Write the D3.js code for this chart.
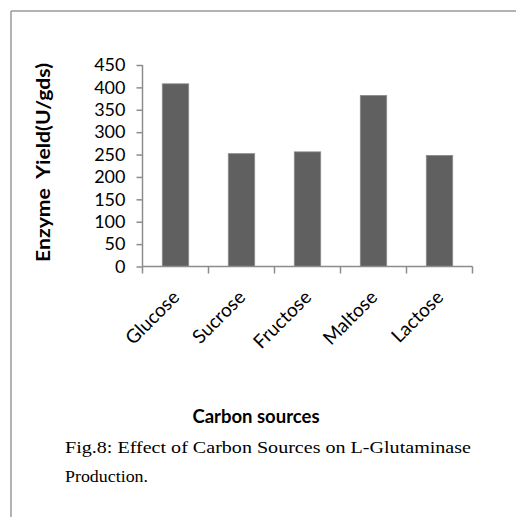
<!DOCTYPE html>
<html><head><meta charset="utf-8">
<script src="https://cdn.jsdelivr.net/npm/d3@7"></script>
<style>body{margin:0;background:#fff}svg{display:block}</style>
</head><body>
<script>
const categories = ["Glucose","Sucrose","Fructose","Maltose","Lactose"];
const values = [408, 252, 256, 382, 248];
const yTicks = [0,50,100,150,200,250,300,350,400,450];
const yTitle = "Enzyme  Yield(U/gds)";
const xTitle = "Carbon sources";
const captionLines = ["Fig.8: Effect of Carbon Sources on L-Glutaminase", "Production."];

(function(){
const W = 516, H = 517;
const svg = d3.select("body").append("svg").attr("width", W).attr("height", H);
const frame = "#9a9a9a";
svg.append("line").attr("x1",11).attr("x2",516).attr("y1",11).attr("y2",11).attr("stroke",frame).attr("stroke-width",1.5);
svg.append("line").attr("x1",11).attr("x2",11).attr("y1",11).attr("y2",517).attr("stroke",frame).attr("stroke-width",1.5);

const pLeft = 142.5, pRight = 472.5, pTop = 65, pBottom = 266.5;
const p = 0.6;
const x = d3.scaleBand().domain(categories).range([pLeft, pRight]).paddingInner(p).paddingOuter(p/2);
const y = d3.scaleLinear().domain([0, 450]).range([pBottom, pTop]);
const axisCol = "#8c8c8c";
const font = "Lato, 'Open Sans', sans-serif";

svg.append("g").selectAll("rect").data(values).join("rect")
  .attr("x", (d,i) => x(categories[i]))
  .attr("width", x.bandwidth())
  .attr("y", d => y(d))
  .attr("height", d => y(0) - y(d))
  .attr("fill", "#606060")
  .attr("stroke", "#8a8a8a").attr("stroke-width", 0.8);

const ya = svg.append("g").attr("transform", `translate(${pLeft},0)`)
  .call(d3.axisLeft(y).tickValues(yTicks).tickSize(6).tickPadding(11));
ya.selectAll("path,line").attr("stroke", axisCol).attr("stroke-width", 1.5);
ya.select(".domain").attr("d", `M0,${pTop}V${pBottom}`);
ya.selectAll("text").attr("font-family", font).attr("font-size", 18).attr("fill", "#000");

const step = x.step();
const edges = d3.range(categories.length + 1).map(i => pLeft + i * step);
svg.append("line").attr("x1", pLeft).attr("x2", pRight).attr("y1", pBottom).attr("y2", pBottom)
  .attr("stroke", axisCol).attr("stroke-width", 1.5);
svg.append("g").selectAll("line").data(edges).join("line")
  .attr("x1", d => d).attr("x2", d => d).attr("y1", pBottom).attr("y2", pBottom + 7)
  .attr("stroke", axisCol).attr("stroke-width", 1.5);

svg.append("g").selectAll("text").data(categories).join("text")
  .attr("transform", d => `translate(${x(d) + x.bandwidth()/2 + 5},${pBottom + 32}) rotate(-45)`)
  .attr("text-anchor", "end")
  .attr("font-family", font).attr("font-size", 19).attr("fill", "#000")
  .text(d => d);

svg.append("text")
  .attr("transform", `translate(50,162.5) rotate(-90)`)
  .attr("text-anchor", "middle")
  .attr("font-family", font).attr("font-weight", "bold").attr("font-size", 18)
  .attr("textLength", 199).attr("lengthAdjust", "spacingAndGlyphs")
  .style("white-space", "pre")
  .attr("fill", "#000")
  .text(yTitle);

svg.append("text").attr("x", 256).attr("y", 422.5)
  .attr("text-anchor", "middle")
  .attr("font-family", font).attr("font-weight", "bold").attr("font-size", 18.5)
  .attr("fill", "#000").text(xTitle);

const serif = "'Liberation Serif', 'Times New Roman', serif";
svg.append("text").attr("x", 65).attr("y", 453)
  .attr("font-family", serif).attr("font-size", 17.5)
  .attr("textLength", 406).attr("lengthAdjust", "spacingAndGlyphs")
  .attr("fill", "#000").text(captionLines[0]);
svg.append("text").attr("x", 65).attr("y", 482)
  .attr("font-family", serif).attr("font-size", 17.5)
  .attr("textLength", 83).attr("lengthAdjust", "spacingAndGlyphs")
  .attr("fill", "#000").text(captionLines[1]);
})();
</script>
</body></html>
